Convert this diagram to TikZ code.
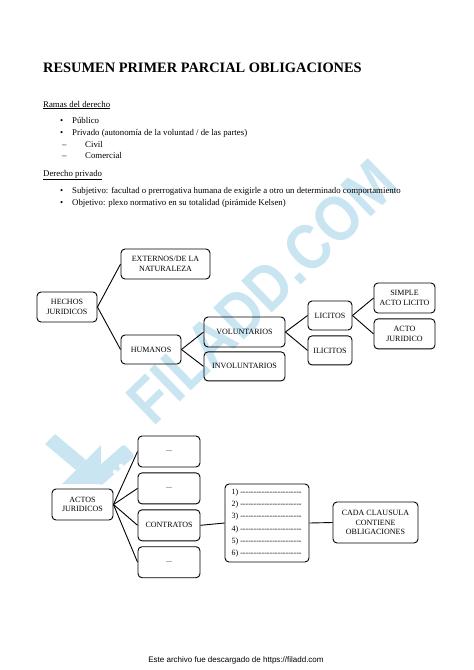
\documentclass[tikz,border=0pt]{standalone}
\usepackage{fontspec}
\setmainfont{Liberation Serif}
\newfontfamily\piefont{Liberation Sans}
\usetikzlibrary{positioning}
\definecolor{wmblue}{RGB}{200,229,241}
\newcommand\dashrow{\makebox[62pt]{\leaders\hbox{-}\hfill}}

\begin{document}
\begin{tikzpicture}[x=1pt,y=-1pt,
node distance=5pt,
box/.style={draw,rounded corners=4pt,line width=0.9pt,align=center,inner sep=1pt,font=\fontsize{8}{9.3}\selectfont},
txt/.style={anchor=base west,inner sep=0pt,font=\fontsize{8.8}{10}\selectfont},
link/.style={line width=0.9pt}
]
\useasboundingbox (0,0) rectangle (474,670);

% marca de agua
\node[rotate=44,xscale=0.86,text=wmblue,font=\piefont\bfseries\fontsize{64}{64}\selectfont] (marca) at (262,292) {FILADD.COM};
\fill[wmblue] (45,444) -- (55,434) -- (86,460) -- (76,470) -- cycle;
\fill[wmblue] (62,484) -- (101,484) -- (101,445) -- cycle;
\fill[wmblue,rounded corners=3pt] (90,474) -- (124,444) -- (135,456) -- (101,486) -- cycle;
\fill[white] (115,472) circle (2.2) (121,466) circle (2.2);

% encabezado
\node[txt,font=\fontsize{14.4}{16}\selectfont\bfseries] (titulo) at (43,72) {RESUMEN PRIMER PARCIAL OBLIGACIONES};
\node[txt] (ramas) at (43,107) {\underline{Ramas del derecho}};
\node[txt] (b1) at (60,123) {\textbullet};
\node[txt] (publico) at (72,123) {Público};
\node[txt] (b2) at (60,135) {\textbullet};
\node[txt] (privado) at (72,135) {Privado (autonomía de la voluntad / de las partes)};
\node[txt] (g1) at (62,147) {–};
\node[txt] (civil) at (85,147) {Civil};
\node[txt] (g2) at (62,158) {–};
\node[txt] (comercial) at (85,158) {Comercial};
\node[txt] (derpriv) at (43,176) {\underline{Derecho privado}};
\node[txt] (b3) at (60,193) {\textbullet};
\node[txt] (subjetivo) at (72,193) {Subjetivo: facultad o prerrogativa humana de exigirle a otro un determinado comportamiento};
\node[txt] (b4) at (60,205) {\textbullet};
\node[txt] (objetivo) at (72,205) {Objetivo: plexo normativo en su totalidad (pirámide Kelsen)};

% hechos juridicos
\node[box,minimum width=60pt,minimum height=30pt] (hechos) at (67,307) {HECHOS\\JURIDICOS};
\node[box,minimum width=89pt,minimum height=30pt] (externos) at (165.5,264) {EXTERNOS/DE LA\\NATURALEZA};
\node[box,minimum width=60pt,minimum height=29pt] (humanos) at (151,349.5) {HUMANOS};
\node[box,minimum width=81pt,minimum height=30pt] (volunt) at (244.5,332) {VOLUNTARIOS};
\node[box,minimum width=81pt,minimum height=29pt,below=4pt of volunt] (involunt) {INVOLUNTARIOS};
\node[box,minimum width=44pt,minimum height=29pt] (licitos) at (330,315.5) {LICITOS};
\node[box,minimum width=44pt,minimum height=29pt,below=5pt of licitos] (ilicitos) {ILICITOS};
\node[box,minimum width=61pt,minimum height=30pt] (simple) at (404.5,298) {SIMPLE\\ACTO LICITO};
\node[box,minimum width=61pt,minimum height=30pt,below=5pt of simple] (actojur) {ACTO\\JURIDICO};
\draw[link] (hechos.east)--(externos.west); \draw[link] (hechos.east)--(humanos.west);
\draw[link] (humanos.east)--(volunt.west); \draw[link] (humanos.east)--(involunt.west);
\draw[link] (volunt.east)--(licitos.west); \draw[link] (volunt.east)--(ilicitos.west);
\draw[link] (licitos.east)--(simple.west); \draw[link] (licitos.east)--(actojur.west);

% actos juridicos
\node[box,minimum width=61pt,minimum height=31pt] (actos) at (82.5,504.5) {ACTOS\\JURIDICOS};
\node[box,minimum width=62pt,minimum height=31pt] (op1) at (169,451.5) {...};
\node[box,minimum width=62pt,minimum height=31pt,below=of op1] (op2) {...};
\node[box,minimum width=62pt,minimum height=31pt,below=of op2] (contratos) {CONTRATOS};
\node[box,minimum width=62pt,minimum height=31pt,below=of contratos] (op4) {...};
\node[box,minimum width=84pt,minimum height=78pt,align=left,font=\fontsize{8}{12.2}\selectfont] (clausulas) at (267,523) {1) \dashrow\\2) \dashrow\\3) \dashrow\\4) \dashrow\\5) \dashrow\\6) \dashrow};
\node[box,minimum width=85pt,minimum height=41pt] (cada) at (375.5,522.5) {CADA CLAUSULA\\CONTIENE\\OBLIGACIONES};
\draw[link] (actos.east)--(op1.west); \draw[link] (actos.east)--(op2.west); \draw[link] (actos.east)--(contratos.west); \draw[link] (actos.east)--(op4.west);
\draw[link] (contratos.east)--(clausulas.west); \draw[link] (clausulas.east)--(cada.west);

\node[anchor=base,inner sep=0pt,font=\piefont\fontsize{8}{9}\selectfont] (pie) at (236,662) {Este archivo fue descargado de https://filadd.com};
\end{tikzpicture}
\end{document}
